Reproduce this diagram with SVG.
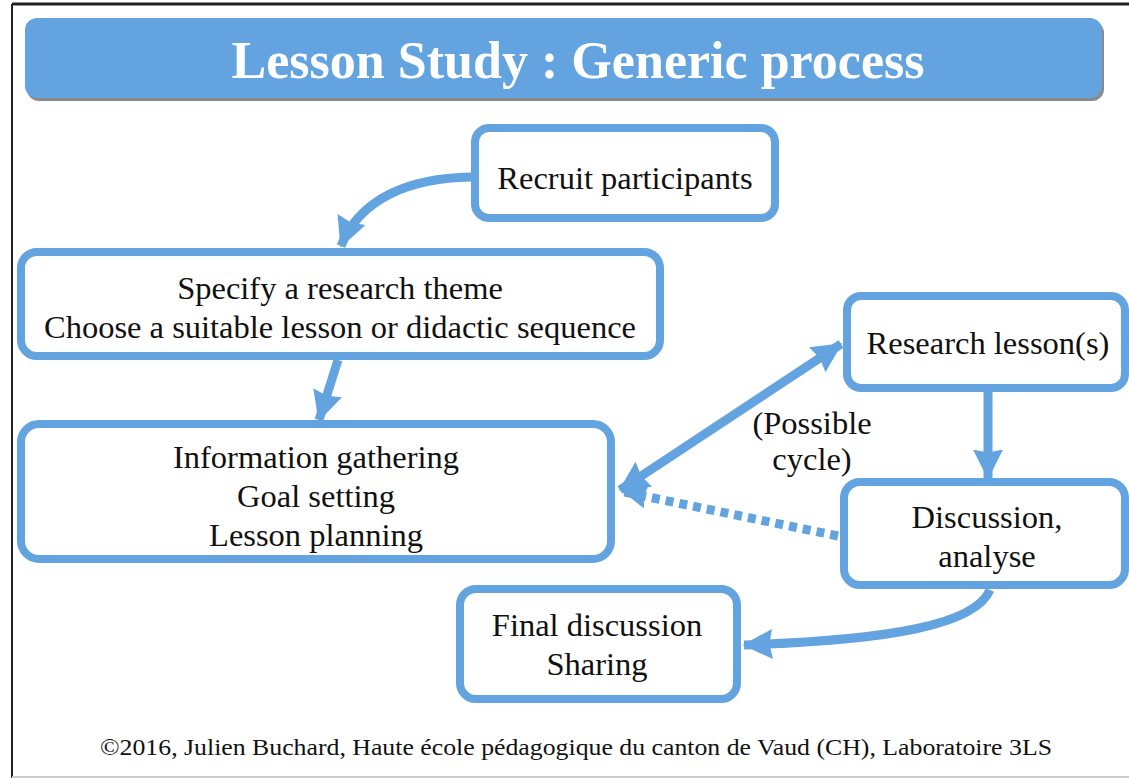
<svg xmlns="http://www.w3.org/2000/svg" width="1129" height="778" viewBox="0 0 1129 778">
<style>
.box{fill:#fff;stroke:#62a3e0;stroke-width:8}
.t{font-family:"Liberation Serif","Times New Roman",serif;font-size:32.5px;fill:#111;text-anchor:middle}
.c{fill:none;stroke:#62a3e0;stroke-width:9}
</style>
<defs>
<marker id="ah" viewBox="0 0 10 10" refX="9.5" refY="5" markerUnits="userSpaceOnUse" markerWidth="30" markerHeight="30" orient="auto-start-reverse">
<path d="M0,0 L10,5 L0,10 L1,5 Z" fill="#62a3e0"/>
</marker>
<marker id="ahs" viewBox="0 0 10 10" refX="9.5" refY="5" markerUnits="userSpaceOnUse" markerWidth="24" markerHeight="24" orient="auto">
<path d="M0,0 L10,5 L0,10 L1,5 Z" fill="#62a3e0"/>
</marker>
</defs>
<rect width="1129" height="778" fill="#fff"/>
<line x1="12" y1="4" x2="1129" y2="4" stroke="#222" stroke-width="3"/>
<line x1="12" y1="4" x2="12" y2="778" stroke="#222" stroke-width="2"/>
<line x1="12" y1="777" x2="1129" y2="777" stroke="#ccc" stroke-width="2"/>
<g id="title">
<rect x="27" y="21" width="1077" height="80" rx="12" fill="#8a8a8a"/>
<rect x="25" y="18" width="1077" height="80" rx="12" fill="#62a3e0"/>
<text x="578" y="78" font-family="Liberation Serif,serif" font-size="52" font-weight="bold" fill="#fff" text-anchor="middle" textLength="693" lengthAdjust="spacingAndGlyphs">Lesson Study : Generic process</text>
</g>
<g id="connectors">
<path class="c" d="M471,177 C410,178 360,198 341,246" marker-end="url(#ah)"/>
<path class="c" d="M338,360 L319,420" marker-end="url(#ah)"/>
<path class="c" d="M620,490 L841,344" marker-start="url(#ah)" marker-end="url(#ah)"/>
<path class="c" d="M988,392 L988,478" marker-end="url(#ah)"/>
<path class="c" d="M838,536 L624,492" stroke-dasharray="8,6" stroke-width="8" marker-end="url(#ahs)"/>
<path class="c" d="M990,590 C975,625 890,640 744,645" marker-end="url(#ah)"/>
</g>
<g id="recruit">
<rect class="box" x="475" y="128" width="300" height="90" rx="14"/>
<text class="t" x="625" y="189">Recruit participants</text>
</g>
<g id="specify">
<rect class="box" x="21" y="252" width="639" height="104" rx="16"/>
<text class="t" x="340" y="299">Specify a research theme</text>
<text class="t" x="340" y="338">Choose a suitable lesson or didactic sequence</text>
</g>
<g id="info">
<rect class="box" x="21" y="424" width="590" height="135" rx="18"/>
<text class="t" x="316" y="468">Information gathering</text>
<text class="t" x="316" y="507">Goal setting</text>
<text class="t" x="316" y="546">Lesson planning</text>
</g>
<g id="research">
<rect class="box" x="847" y="296" width="278" height="92" rx="14"/>
<text class="t" x="988" y="354">Research lesson(s)</text>
</g>
<g id="discussion">
<rect class="box" x="844" y="482" width="281" height="103" rx="16"/>
<text class="t" x="987" y="528">Discussion,</text>
<text class="t" x="987" y="567">analyse</text>
</g>
<g id="final">
<rect class="box" x="460" y="589" width="277" height="110" rx="16"/>
<text class="t" x="597" y="636">Final discussion</text>
<text class="t" x="597" y="675">Sharing</text>
</g>
<g id="cycle-label">
<text class="t" x="812" y="434">(Possible</text>
<text class="t" x="812" y="470">cycle)</text>
</g>
<text x="576" y="755" font-family="Liberation Serif,serif" font-size="23" fill="#111" text-anchor="middle" textLength="952" lengthAdjust="spacingAndGlyphs">©2016, Julien Buchard, Haute école pédagogique du canton de Vaud (CH), Laboratoire 3LS</text>
</svg>
